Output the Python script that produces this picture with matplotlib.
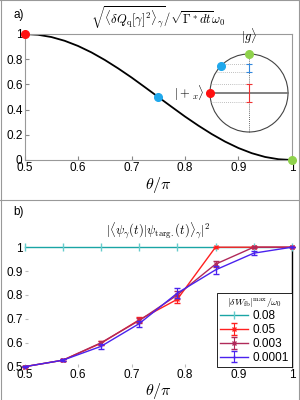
import matplotlib
matplotlib.use('Agg')
import matplotlib.pyplot as plt
import numpy as np
from matplotlib.lines import Line2D
from matplotlib.patches import Circle

plt.rcParams['font.family'] = ['Liberation Sans', 'DejaVu Sans']
plt.rcParams['mathtext.fontset'] = 'cm'

# panel a) curve
theta_a = [0.5, 0.525, 0.55, 0.575, 0.6, 0.625, 0.65, 0.675, 0.7, 0.725, 0.75,
           0.775, 0.8, 0.825, 0.85, 0.875, 0.9, 0.925, 0.95, 0.975, 1.0]
sigma_a = [1.0, 0.994, 0.976, 0.946, 0.905, 0.854, 0.794, 0.727, 0.655, 0.578, 0.5,
           0.422, 0.345, 0.273, 0.206, 0.146, 0.095, 0.054, 0.024, 0.006, 0.0]
dots_x = [0.5, 0.75, 1.0]
dots_y = [1.0, 0.5, 0.0]
dot_colors = ['#ff1010', '#20a8ec', '#8fd24c']

# panel b) fidelity
theta_b = [0.5, 0.5714, 0.6429, 0.7143, 0.7857, 0.8571, 0.9286, 1.0]
labels_b = ['0.08', '0.05', '0.003', '0.0001']
fid_008 = [1.0, 1.0, 1.0, 1.0, 1.0, 1.0, 1.0, 1.0]
fid_005 = [0.5, 0.527, 0.598, 0.696, 0.782, 1.0, 1.0, 1.0]
err_005 = [0.003, 0.005, 0.008, 0.01, 0.016, 0.0, 0.0, 0.0]
fid_0003 = [0.5, 0.527, 0.600, 0.693, 0.800, 0.929, 1.0, 1.0]
err_0003 = [0.003, 0.005, 0.008, 0.01, 0.018, 0.012, 0.004, 0.0]
fid_00001 = [0.5, 0.527, 0.585, 0.680, 0.808, 0.905, 0.975, 1.0]
err_00001 = [0.003, 0.005, 0.01, 0.012, 0.022, 0.016, 0.008, 0.0]

fig = plt.figure(figsize=(3, 4), dpi=100)

# ---- panel a
ax1 = fig.add_axes([0.082, 0.6, 0.891, 0.315])
ax1.plot(theta_a, sigma_a, color='black', lw=1.3)
for x, y, c in zip(dots_x, dots_y, dot_colors):
    ax1.plot(x, y, 'o', color=c, ms=5.5, clip_on=False, zorder=5)
ax1.set_xlim(0.5, 1)
ax1.set_ylim(0, 1)
ax1.set_xticks([0.5, 0.6, 0.7, 0.8, 0.9, 1])
ax1.set_xticklabels(['0.5', '0.6', '0.7', '0.8', '0.9', '1'])
ax1.set_yticks([0, 0.2, 0.4, 0.6, 0.8, 1])
ax1.set_yticklabels(['0', '0.2', '0.4', '0.6', '0.8', '1'])
ax1.tick_params(direction='in', length=3, color='#888888', labelsize=8.5, pad=1.5)
for s in ax1.spines.values():
    s.set_color('#999999')
    s.set_linewidth(0.8)
ax1.set_xlabel(r'$\theta/\pi$', fontsize=11.5, labelpad=1)
ax1.set_title(r'$\sqrt{\langle \delta Q_{\rm q}[\gamma]^2\rangle_\gamma}/\sqrt{\Gamma^* dt}\omega_0$',
              fontsize=9, pad=7)
fig.text(0.045, 0.962, 'a)', fontsize=8.5, va='center')

# inset bloch circle
axi = fig.add_axes([0.68, 0.655, 0.3, 0.225])
axi.set_xlim(-1.154, 1.154)
axi.set_ylim(-1.154, 1.154)
axi.axis('off')
axi.patch.set_alpha(0)
axi.add_patch(Circle((0, 0), 1, fill=False, ec='#444444', lw=0.8))
axi.plot([-1, 1], [0, 0], color='#777777', lw=1.3)
axi.plot([0, 0], [1, -1], color='#333333', lw=0.6, ls=(0, (1, 1.5)))
for y0, x0 in [(0.74, -0.72), (0.54, -0.84), (0.23, -0.97), (-0.23, -0.97)]:
    axi.plot([x0, 0], [y0, y0], color='#aaaaaa', lw=0.6, ls=(0, (1, 1.5)))
axi.errorbar([0], [0.64], yerr=[0.1], color='#3388dd', capsize=2, lw=0.8, capthick=0.8)
axi.errorbar([0], [0.0], yerr=[0.235], color='#ee3333', capsize=2, lw=0.8, capthick=0.8)
axi.plot(-1, 0, 'o', color=dot_colors[0], ms=5.5, clip_on=False)
axi.plot(-0.72, 0.68, 'o', color=dot_colors[1], ms=5.5, clip_on=False)
axi.plot(0, 1, 'o', color=dot_colors[2], ms=5.5, clip_on=False)
axi.text(0, 1.2, r'$|g\rangle$', ha='center', va='bottom', fontsize=9)
axi.text(-1.15, 0, r'$|+_x\rangle$', ha='right', va='center', fontsize=9)

# ---- panel b
ax2 = fig.add_axes([0.082, 0.0833, 0.891, 0.2987])
ax2.plot(theta_b, fid_008, color='#1aa5a5', lw=1.0, marker='|', ms=6,
         mec='#66cccc', label=labels_b[0], clip_on=False, zorder=3)
ax2.errorbar(theta_b, fid_005, yerr=err_005, color='#ff2020', lw=1.0, marker='x', ms=3.5,
             capsize=2.5, elinewidth=0.8, label=labels_b[1], clip_on=False, zorder=4)
ax2.errorbar(theta_b, fid_0003, yerr=err_0003, color='#b02a5a', lw=1.0, marker='x', ms=3.5,
             capsize=2.5, elinewidth=0.8, label=labels_b[2], clip_on=False, zorder=4)
ax2.errorbar(theta_b, fid_00001, yerr=err_00001, color='#4a22ee', lw=1.0, marker='|', ms=3.5,
             capsize=2.5, elinewidth=0.8, label=labels_b[3], clip_on=False, zorder=5)
ax2.set_xlim(0.5, 1)
ax2.set_ylim(0.5, 1)
ax2.set_xticks([0.5, 0.6, 0.7, 0.8, 0.9, 1])
ax2.set_xticklabels(['0.5', '0.6', '0.7', '0.8', '0.9', '1'])
ax2.set_yticks([0.5, 0.6, 0.7, 0.8, 0.9, 1])
ax2.set_yticklabels(['0.5', '0.6', '0.7', '0.8', '0.9', '1'])
ax2.tick_params(direction='in', length=2, color='#bbbbbb', labelsize=8.5, pad=1.5)
for side in ['top', 'left', 'bottom']:
    ax2.spines[side].set_visible(False)
ax2.spines['right'].set_color('black')
ax2.spines['right'].set_linewidth(1.0)
ax2.set_xlabel(r'$\theta/\pi$', fontsize=11.5, labelpad=0)
ax2.set_title(r'$|\langle\psi_\gamma(t)|\psi_{\rm targ.}(t)\rangle_\gamma|^2$', fontsize=9, pad=9)
fig.text(0.045, 0.47, 'b)', fontsize=8.5, va='center')
leg = ax2.legend(loc='lower right', bbox_to_anchor=(1.0, 0.0), borderaxespad=0.0,
                 title=r'$|\delta W_{\rm fb}|^{\rm max}/\omega_0$', fontsize=8.5,
                 title_fontsize=7, fancybox=False, framealpha=1, handlelength=2.4,
                 handletextpad=0.4, labelspacing=0.15, borderpad=0.25)
leg.get_frame().set_edgecolor('black')
leg.get_frame().set_linewidth(0.6)

# panel frames
fig.add_artist(Line2D([0.003, 0.003], [0, 1], color='#999999', lw=0.8))
fig.add_artist(Line2D([0.997, 0.997], [0, 1], color='#999999', lw=0.8))
fig.add_artist(Line2D([0, 1], [0.999, 0.999], color='#999999', lw=0.8))
fig.add_artist(Line2D([0, 1], [0.5, 0.5], color='#999999', lw=0.8))

fig.savefig('out.png', dpi=100)
